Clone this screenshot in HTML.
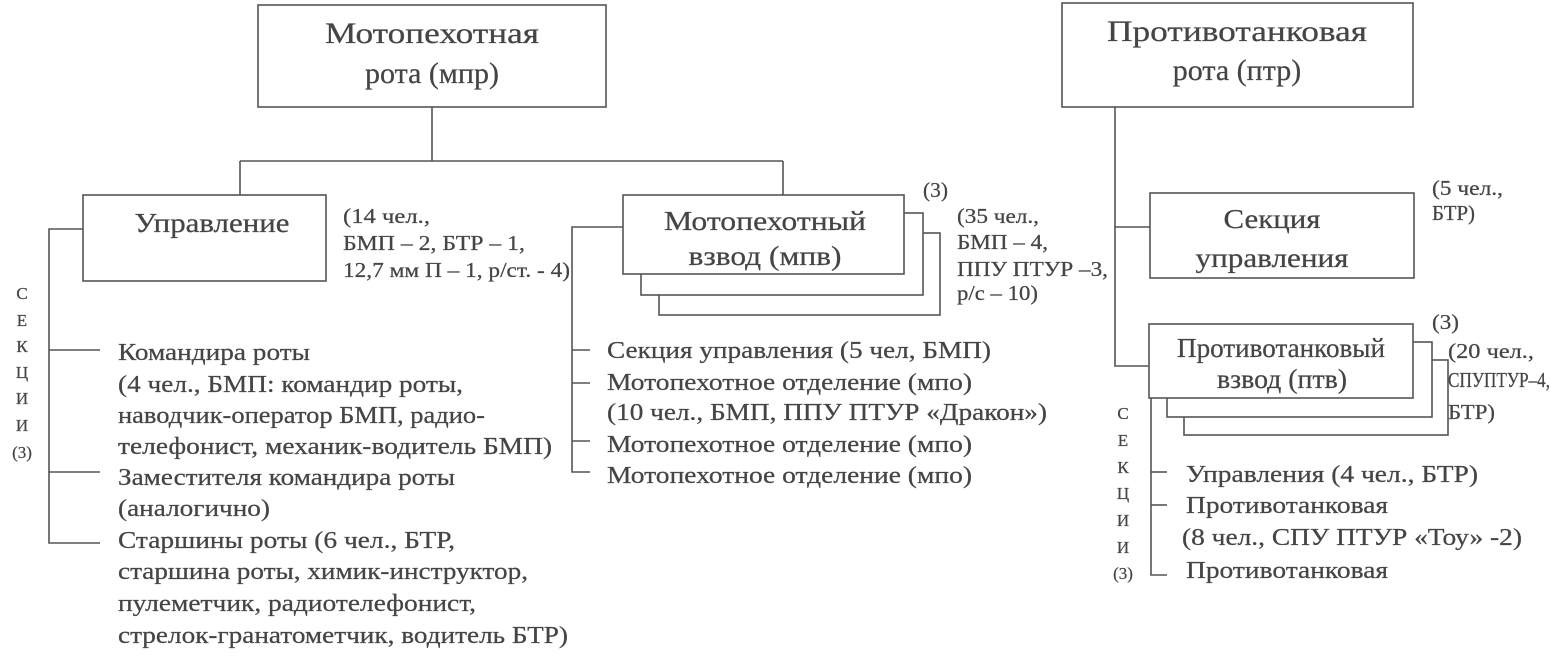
<!DOCTYPE html>
<html>
<head>
<meta charset="utf-8">
<style>
html,body{margin:0;padding:0;background:#fff;}
svg{display:block;}
text{font-family:"Liberation Serif","Noto Serif CJK SC",serif;fill:#454545;stroke:#454545;stroke-width:0.25;}
.t30{font-size:30px;}
.t27{font-size:27px;}
.t24{font-size:24px;}
.t21{font-size:21px;}
.t17{font-size:17px;}
</style>
</head>
<body>
<svg width="1551" height="659" viewBox="0 0 1551 659" xmlns="http://www.w3.org/2000/svg">
<g fill="none" stroke="#555" stroke-width="1.6">
  <!-- LEFT -->
  <rect x="258" y="5" width="348" height="102" fill="#fff"/>
  <line x1="432" y1="107" x2="432" y2="161"/>
  <line x1="240" y1="161" x2="783" y2="161"/>
  <line x1="240" y1="161" x2="240" y2="195"/>
  <line x1="783" y1="161" x2="783" y2="195"/>
  <rect x="83" y="195" width="243" height="86" fill="#fff"/>
  <polyline points="83,229 49,229 49,543 100,543"/>
  <line x1="49" y1="350" x2="100" y2="350"/>
  <line x1="49" y1="472" x2="100" y2="472"/>
  <rect x="659" y="233" width="281" height="82" fill="#fff"/>
  <rect x="641" y="213" width="282" height="82" fill="#fff"/>
  <rect x="623" y="195" width="281" height="79" fill="#fff"/>
  <polyline points="623,227 572,227 572,472 590,472"/>
  <line x1="572" y1="350" x2="590" y2="350"/>
  <line x1="572" y1="383" x2="590" y2="383"/>
  <line x1="572" y1="441" x2="590" y2="441"/>
  <!-- RIGHT -->
  <rect x="1062" y="3" width="351" height="104" fill="#fff"/>
  <polyline points="1115,107 1115,366 1149,366"/>
  <line x1="1115" y1="227" x2="1150" y2="227"/>
  <rect x="1150" y="193" width="264" height="85" fill="#fff"/>
  <rect x="1184" y="360" width="264" height="75" fill="#fff"/>
  <rect x="1167" y="342" width="265" height="75" fill="#fff"/>
  <rect x="1149" y="324" width="264" height="74" fill="#fff"/>
  <polyline points="1151,398 1151,575 1167,575"/>
  <line x1="1151" y1="472" x2="1167" y2="472"/>
  <line x1="1151" y1="505" x2="1167" y2="505"/>
</g>

<!-- Titles -->
<text class="t30" x="432" y="43" text-anchor="middle" textLength="214" lengthAdjust="spacingAndGlyphs">Мотопехотная</text>
<text class="t30" x="432" y="83" text-anchor="middle">рота (мпр)</text>
<text class="t30" x="1237" y="41" text-anchor="middle" textLength="260" lengthAdjust="spacingAndGlyphs">Противотанковая</text>
<text class="t30" x="1237" y="80" text-anchor="middle">рота (птр)</text>

<text class="t27" x="212" y="232" text-anchor="middle" textLength="155" lengthAdjust="spacingAndGlyphs">Управление</text>
<text class="t27" x="765" y="230" text-anchor="middle" textLength="202" lengthAdjust="spacingAndGlyphs">Мотопехотный</text>
<text class="t27" x="765" y="265" text-anchor="middle" textLength="153" lengthAdjust="spacingAndGlyphs">взвод (мпв)</text>
<text class="t27" x="1272" y="228" text-anchor="middle" textLength="97" lengthAdjust="spacingAndGlyphs">Секция</text>
<text class="t27" x="1272" y="267" text-anchor="middle" textLength="153" lengthAdjust="spacingAndGlyphs">управления</text>
<text class="t27" x="1281" y="357" text-anchor="middle" textLength="208" lengthAdjust="spacingAndGlyphs">Противотанковый</text>
<text class="t27" x="1282" y="388" text-anchor="middle" textLength="130" lengthAdjust="spacingAndGlyphs">взвод (птв)</text>

<!-- Notes -->
<text class="t21" x="343" y="223" textLength="87" lengthAdjust="spacingAndGlyphs">(14 чел.,</text>
<text class="t21" x="343" y="250" textLength="182" lengthAdjust="spacingAndGlyphs">БМП – 2, БТР – 1,</text>
<text class="t21" x="343" y="277" textLength="227" lengthAdjust="spacingAndGlyphs">12,7 мм П – 1, р/ст. - 4)</text>

<text class="t21" x="923" y="197" textLength="25" lengthAdjust="spacingAndGlyphs">(3)</text>
<text class="t21" x="957" y="223" textLength="82" lengthAdjust="spacingAndGlyphs">(35 чел.,</text>
<text class="t21" x="957" y="249" textLength="91" lengthAdjust="spacingAndGlyphs">БМП – 4,</text>
<text class="t21" x="957" y="276" textLength="151" lengthAdjust="spacingAndGlyphs">ППУ ПТУР –3,</text>
<text class="t21" x="957" y="300" textLength="81" lengthAdjust="spacingAndGlyphs">р/с – 10)</text>

<text class="t21" x="1432" y="195" textLength="71" lengthAdjust="spacingAndGlyphs">(5 чел.,</text>
<text class="t21" x="1432" y="220" textLength="43" lengthAdjust="spacingAndGlyphs">БТР)</text>
<text class="t21" x="1432" y="329" textLength="27" lengthAdjust="spacingAndGlyphs">(3)</text>
<text class="t21" x="1448" y="358" textLength="86" lengthAdjust="spacingAndGlyphs">(20 чел.,</text>
<text class="t21" x="1448" y="387" textLength="102" lengthAdjust="spacingAndGlyphs">СПУПТУР–4,</text>
<text class="t21" x="1448" y="419" textLength="47" lengthAdjust="spacingAndGlyphs">БТР)</text>

<!-- СЕКЦИИ left -->
<g class="t17" text-anchor="middle">
<text x="22" y="299">С</text>
<text x="22" y="326">Е</text>
<text x="22" y="352">К</text>
<text x="22" y="378">Ц</text>
<text x="22" y="404">И</text>
<text x="22" y="431">И</text>
<text x="22" y="458">(3)</text>
</g>
<!-- СЕКЦИИ right -->
<g class="t17" text-anchor="middle">
<text x="1123" y="419">С</text>
<text x="1123" y="446">Е</text>
<text x="1123" y="473">К</text>
<text x="1123" y="499">Ц</text>
<text x="1123" y="526">И</text>
<text x="1123" y="553">И</text>
<text x="1123" y="579">(3)</text>
</g>

<!-- Left list -->
<g class="t24">
<text x="118" y="360" textLength="192" lengthAdjust="spacingAndGlyphs">Командира роты</text>
<text x="118" y="392" textLength="345" lengthAdjust="spacingAndGlyphs">(4 чел., БМП: командир роты,</text>
<text x="118" y="423" textLength="367" lengthAdjust="spacingAndGlyphs">наводчик-оператор БМП, радио-</text>
<text x="118" y="454" textLength="434" lengthAdjust="spacingAndGlyphs">телефонист, механик-водитель БМП)</text>
<text x="118" y="485" textLength="337" lengthAdjust="spacingAndGlyphs">Заместителя командира роты</text>
<text x="118" y="516" textLength="152" lengthAdjust="spacingAndGlyphs">(аналогично)</text>
<text x="118" y="548" textLength="337" lengthAdjust="spacingAndGlyphs">Старшины роты (6 чел., БТР,</text>
<text x="118" y="579" textLength="410" lengthAdjust="spacingAndGlyphs">старшина роты, химик-инструктор,</text>
<text x="118" y="611" textLength="358" lengthAdjust="spacingAndGlyphs">пулеметчик, радиотелефонист,</text>
<text x="118" y="643" textLength="450" lengthAdjust="spacingAndGlyphs">стрелок-гранатометчик, водитель БТР)</text>
</g>

<!-- Middle list -->
<g class="t24">
<text x="607" y="358" textLength="384" lengthAdjust="spacingAndGlyphs">Секция управления (5 чел, БМП)</text>
<text x="607" y="390" textLength="365" lengthAdjust="spacingAndGlyphs">Мотопехотное отделение (мпо)</text>
<text x="607" y="420" textLength="440" lengthAdjust="spacingAndGlyphs">(10 чел., БМП, ППУ ПТУР «Дракон»)</text>
<text x="607" y="452" textLength="365" lengthAdjust="spacingAndGlyphs">Мотопехотное отделение (мпо)</text>
<text x="607" y="483" textLength="365" lengthAdjust="spacingAndGlyphs">Мотопехотное отделение (мпо)</text>
</g>

<!-- Right list -->
<g class="t24">
<text x="1186" y="482" textLength="292" lengthAdjust="spacingAndGlyphs">Управления (4 чел., БТР)</text>
<text x="1186" y="513" textLength="202" lengthAdjust="spacingAndGlyphs">Противотанковая</text>
<text x="1182" y="545" textLength="340" lengthAdjust="spacingAndGlyphs">(8 чел., СПУ ПТУР «Тоу» -2)</text>
<text x="1186" y="578" textLength="202" lengthAdjust="spacingAndGlyphs">Противотанковая</text>
</g>
</svg>
</body>
</html>
